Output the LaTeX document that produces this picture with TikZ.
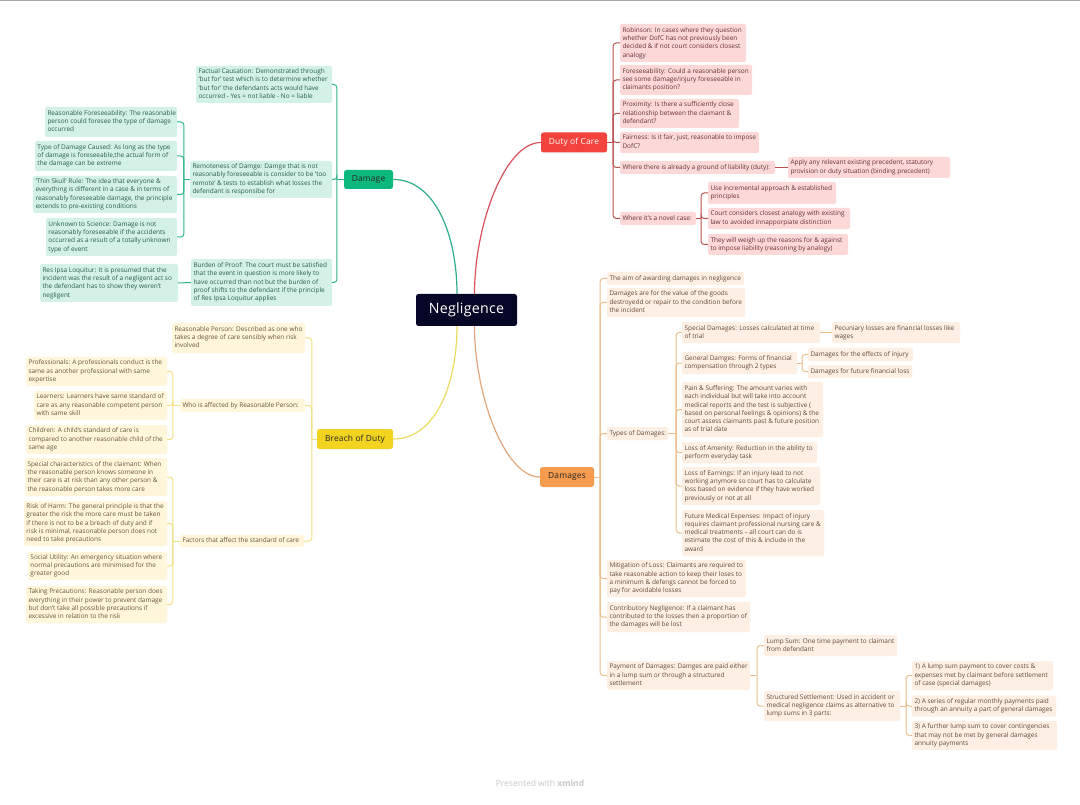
\documentclass[tikz,border=0pt]{standalone}
\usepackage{fontspec}
\setmainfont{Open Sans}
\definecolor{gcard}{HTML}{D3F1E7}\definecolor{gtext}{HTML}{2A5C50}\definecolor{gline}{HTML}{2DB48C}\definecolor{gmain}{HTML}{0DB87C}\definecolor{gcurve}{HTML}{2FAE8E}
\definecolor{ycard}{HTML}{FFF6DC}\definecolor{ytext}{HTML}{635A38}\definecolor{yline}{HTML}{F1E07E}\definecolor{ymain}{HTML}{F2D31F}\definecolor{ycurve}{HTML}{EADC60}
\definecolor{rcard}{HTML}{FDD8D8}\definecolor{rtext}{HTML}{633236}\definecolor{rline}{HTML}{B9504F}\definecolor{rmain}{HTML}{F2443C}\definecolor{rcurve}{HTML}{D8505A}
\definecolor{ocard}{HTML}{FDEFE4}\definecolor{otext}{HTML}{634A38}\definecolor{oline}{HTML}{E9BE8C}\definecolor{omain}{HTML}{F59C4E}\definecolor{ocurve}{HTML}{E2A77A}
\definecolor{navy}{HTML}{060626}
\tikzset{
 x=1pt,y=-1pt,
 cardbox/.style={rounded corners=2pt,inner xsep=0pt,inner ysep=0pt,font=\fontsize{6.45}{8.33}\selectfont},
 gc/.style={cardbox,fill=gcard,text=gtext},
 yc/.style={cardbox,fill=ycard,text=ytext},
 rc/.style={cardbox,fill=rcard,text=rtext},
 oc/.style={cardbox,fill=ocard,text=otext},
 mainbox/.style={rounded corners=2.5pt,inner sep=0pt,font=\fontsize{8.4}{11}\selectfont\addfontfeatures{LetterSpace=2}},
 wire/.style={line width=1pt,rounded corners=3pt},
 gw/.style={wire,draw=gline},
 yw/.style={wire,draw=yline},
 rw/.style={wire,draw=rline},
 ow/.style={wire,draw=oline},
 curve/.style={line width=1.2pt},
}
% name x0 y0 x1 y1 style text
\newcommand\card[7]{%
 \pgfmathsetmacro\cardw{#4-#2}\pgfmathsetmacro\cardh{#5-#3}\pgfmathsetmacro\cardt{#4-#2-5}%
 \node[#6,minimum width=\cardw pt,minimum height=\cardh pt] (#1) at ({(#2+#4)/2},{(#3+#5)/2}) {\makebox[\cardt pt][l]{\begin{tabular}{@{}l@{}}#7\end{tabular}}};}
\newcommand\mainnode[7]{%
 \pgfmathsetmacro\cardw{#4-#2}\pgfmathsetmacro\cardh{#5-#3}%
 \node[mainbox,fill=#6,minimum width=\cardw pt,minimum height=\cardh pt,text=#7] (#1) at ({(#2+#4)/2},{(#3+#5)/2})}
% parent is right of children: style parent dist children
\newcommand\toleft[4]{\draw[#1] (#2.west) -- ++(-#3,0);
 \foreach \kid in {#4}{\draw[#1] ([xshift=-#3 pt]#2.west) |- (\kid.east);}}
\newcommand\toright[4]{\draw[#1] (#2.east) -- ++(#3,0);
 \foreach \kid in {#4}{\draw[#1] ([xshift=#3 pt]#2.east) |- (\kid.west);}}
\begin{document}
\begin{tikzpicture}
\useasboundingbox (0,0) rectangle (1080,805);
\fill[white] (0,0) rectangle (1080,805);
\fill[black!35] (0,0) rectangle (1080,0.8);
% central and main
\mainnode{neg}{416}{294}{517}{326}{navy}{white} {\fontsize{14.2}{18}\selectfont Negligence};
\mainnode{dmg}{344}{170}{393}{189}{gmain}{black!85} {Damage};
\mainnode{bre}{317}{429}{393}{449}{ymain}{black!85} {Breach of Duty};
\mainnode{doc}{541}{132.5}{607}{152.5}{rmain}{white} {Duty of Care};
\mainnode{dms}{540}{467}{594}{487}{omain}{black!85} {Damages};
% Damage
\card{fc}{196}{66}{332}{103}{gc}{Factual Causation: Demonstrated through\\`but for' test which is to determine whether\\`but for' the defendants acts would have\\occurred - Yes = not liable - No = liable}
\card{rem}{190}{161}{332}{198}{gc}{Remoteness of Damge: Damge that is not\\reasonably foreseeable is consider to be `too\\remote' \& tests to establish what losses the\\defendant is responsibe for}
\card{bur}{191}{259}{332}{306}{gc}{Burden of Proof: The court must be satisfied\\that the event in question is more likely to\\have occurred than not but the burden of\\proof shifts to the defendant if the principle\\of Res Ipsa Loquitur applies}
\card{rf}{45}{107}{177}{137}{gc}{Reasonable Foreseeability: The reasonable\\person could foresee the type of damage\\occurred}
\card{td}{35}{141}{177}{171}{gc}{Type of Damage Caused: As long as the type\\of damage is foreseeable,the actual form of\\the damage can be extreme}
\card{ts}{33}{176}{177}{213}{gc}{`Thin Skull' Rule: The idea that everyone \&\\everything is different in a case \& in terms of\\reasonably foreseeable damage, the principle\\extends to pre-existing conditions}
\card{us}{46}{218}{177}{256}{gc}{Unknown to Science: Damage is not\\reasonably foreseeable if the accidents\\occurred as a result of a totally unknown\\type of event}
\card{ril}{40}{264}{178}{302}{gc}{Res Ipsa Loquitur: It is presumed that the\\incident was the result of a negligent act so\\the defendant has to show they weren't\\negligent}
% Breach
\card{rp}{172}{323}{305}{353}{yc}{Reasonable Person: Described as one who\\takes a degree of care sensibly when risk\\involved}
\card{who}{180}{399}{305}{412}{yc}{Who is affected by Reasonable Person:}
\card{fac}{180}{535}{304}{547}{yc}{Factors that affect the standard of care}
\card{pro}{26}{357}{167}{386}{yc}{Professionals: A professionals conduct is the\\same as another professional with same\\expertise}
\card{lea}{34}{391}{167}{420}{yc}{Learners: Learners have same standard of\\care as any reasonable competent person\\with same skill}
\card{chi}{26}{425}{167}{454}{yc}{Children: A child's standard of care is\\compared to another reasonable child of the\\same age}
\card{spe}{25}{458}{167}{496}{yc}{Special characteristics of the claimant: When\\the reasonable person knows someone in\\their care is at risk than any other person \&\\the reasonable person takes more care}
\card{rsk}{24}{501}{167}{546}{yc}{Risk of Harm: The general principle is that the\\greater the risk the more care must be taken\\if there is not to be a breach of duty and if\\risk is minimal, reasonable person does not\\need to take precautions}
\card{soc}{28}{552}{167}{580}{yc}{Social Utility: An emergency situation where\\normal precautions are minimised for the\\greater good}
\card{tak}{26}{586}{167}{623}{yc}{Taking Precautions: Reasonable person does\\everything in their power to prevent damage\\but don't take all possible precautions if\\excessive in relation to the risk}
% Duty
\card{rob}{620}{24}{746}{62}{rc}{Robinson: In cases where they question\\whether DofC has not previously been\\decided \& if not court considers closest\\analogy}
\card{fsb}{620}{65}{752}{95}{rc}{Foreseeability: Could a reasonable person\\see some damage/injury foreseeable in\\claimants position?}
\card{prx}{620}{99}{739}{128}{rc}{Proximity: Is there a sufficiently close\\relationship between the claimant \&\\defendant?}
\card{fai}{620}{132}{759}{153}{rc}{Fairness: Is it fair, just, reasonable to impose\\DofC?}
\card{whr}{620}{161}{775}{174}{rc}{Where there is already a ground of liability (duty):}
\card{app}{788}{157}{950}{178}{rc}{Apply any relevant existing precedent, statutory\\provision or duty situation (binding precedent)}
\card{nov}{620}{212}{696}{225}{rc}{Where it's a novel case:}
\card{use}{708}{182}{836}{204}{rc}{Use incremental approach \& established\\principles}
\card{crt}{708}{208}{850}{229}{rc}{Court considers closest analogy with existing\\law to avoided innapporpiate distinction}
\card{wei}{708}{234}{848}{255}{rc}{They will weigh up the reasons for \& against\\to impose liability (reasoning by analogy)}
% Damages
\card{aim}{607}{272}{744}{285}{oc}{The aim of awarding damages in negligence}
\card{dav}{607}{288}{745}{317}{oc}{Damages are for the value of the goods\\destroyedd or repair to the condition before\\the incident}
\card{typ}{607}{427}{668}{440}{oc}{Types of Damages:}
\card{sdm}{682}{322}{820}{343}{oc}{Special Damages: Losses calculated at time\\of trial}
\card{pec}{832}{322}{960}{343}{oc}{Pecuniary losses are financial losses like\\wages}
\card{gdm}{682}{352}{797}{374}{oc}{General Damges: Forms of financial\\compensation through 2 types}
\card{eff}{808}{348}{913}{361}{oc}{Damages for the effects of injury}
\card{ffl}{808}{365}{912}{378}{oc}{Damages for future financial loss}
\card{pai}{682}{382}{823}{437}{oc}{Pain \& Suffering: The amount varies with\\each individual but will take into account\\medical reports and the test is subjective (\\based on personal feelings \& opinions) \& the\\court assess claimants past \& future position\\as of trial date}
\card{ame}{682}{442}{817}{463}{oc}{Loss of Amenity: Reduction in the ability to\\perform everyday task}
\card{ear}{682}{467}{820}{505}{oc}{Loss of Earnings: If an injury lead to not\\working anymore so court has to calculate\\loss based on evidence if they have worked\\previously or not at all}
\card{fme}{682}{510}{824}{556}{oc}{Future Medical Expenses: Impact of injury\\requires claimant professional nursing care \&\\medical treatments -- all court can do is\\estimate the cost of this \& include in the\\award}
\card{mit}{607}{560}{746}{597}{oc}{Mitigation of Loss: Claimants are required to\\take reasonable action to keep their loses to\\a minimum \& defengs cannot be forced to\\pay for avoidable losses}
\card{con}{607}{602}{750}{632}{oc}{Contributory Negligence: If a claimant has\\contributed to the losses then a proportion of\\the damages will be lost}
\card{pay}{607}{661}{750}{690}{oc}{Payment of Damages: Damges are paid either\\in a lump sum or through a structured\\settlement}
\card{lum}{764}{635}{897}{656}{oc}{Lump Sum: One time payment to claimant\\from defendant}
\card{str}{764}{691}{900}{721}{oc}{Structured Settlement: Used in accident or\\medical negligence claims as alternative to\\lump sums in 3 parts:}
\card{one}{912}{661}{1053}{690}{oc}{1) A lump sum payment to cover costs \&\\expenses met by claimant before settlement\\of case (special damages)}
\card{two}{912}{695.5}{1056}{716.5}{oc}{2) A series of regular monthly payments paid\\through an annuity a part of general damages}
\card{thr}{912}{721}{1057}{750}{oc}{3) A further lump sum to cover contingencies\\that may not be met by general damages\\annuity payments}
% main curves
\draw[curve,draw=gcurve] (dmg.east) .. controls +(42,0) and (457,235) .. ([xshift=-9.5pt]neg.north);
\draw[curve,draw=rcurve] (doc.west) .. controls +(-36,0) and (474.5,225) .. ([xshift=8pt]neg.north);
\draw[curve,draw=ycurve] (bre.east) .. controls +(42,0) and (457,385) .. ([xshift=-9.5pt]neg.south);
\draw[curve,draw=ocurve] (dms.west) .. controls +(-35,0) and (474.5,395) .. ([xshift=8pt]neg.south);
% branches
\toleft{gw}{dmg}{7}{fc,rem,bur}
\toleft{gw}{rem}{6}{rf,td,ts,us}
\draw[gw] (bur.west) -- (ril.east);
\toleft{yw}{bre}{5}{rp,who,fac}
\toleft{yw}{who}{7}{pro,lea,chi}
\toleft{yw}{fac}{7}{spe,rsk,soc,tak}
\toright{rw}{doc}{6}{rob,fsb,prx,fai,whr,nov}
\draw[rw] (whr.east) -- (app.west);
\toright{rw}{nov}{5}{use,crt,wei}
\toright{ow}{dms}{6}{aim,dav,typ,mit,con,pay}
\toright{ow}{typ}{8}{sdm,gdm,pai,ame,ear,fme}
\draw[ow] (sdm.east) -- (pec.west);
\toright{ow}{gdm}{5}{eff,ffl}
\toright{ow}{pay}{7}{lum,str}
\toright{ow}{str}{6}{one,two,thr}
\node[font=\fontsize{8.5}{10}\selectfont,text=black!22,inner sep=0pt] (foot) at (540,783) {Presented with \textbf{xmind}};
\end{tikzpicture}
\end{document}
